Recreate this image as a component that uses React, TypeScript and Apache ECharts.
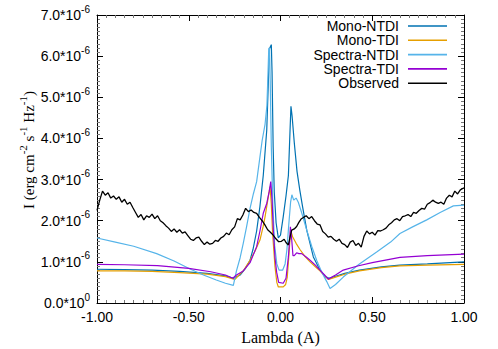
import React, { useEffect, useRef } from 'react';
import * as echarts from 'echarts';

// y values are in units of 1e-6 erg cm^-2 s^-1 Hz^-1
const UNIT = 1e-6;
const seriesNames = ['Mono-NTDI', 'Mono-TDI', 'Spectra-NTDI', 'Spectra-TDI', 'Observed'];
const seriesColors = ['#0072b2', '#e69f00', '#56b4e9', '#9400d3', '#000000'];

const monoNTDI: [number, number][] = [
  [-1.0, 0.82], [-0.85, 0.81], [-0.7, 0.8], [-0.55, 0.77], [-0.4, 0.72], [-0.3, 0.66], [-0.255, 0.6],
  [-0.22, 0.68], [-0.19, 0.85], [-0.166, 1.04], [-0.15, 1.3], [-0.13, 1.75], [-0.112, 2.35], [-0.094, 3.1],
  [-0.075, 4.2], [-0.066, 5.4], [-0.06, 6.18], [-0.054, 6.24], [-0.05, 6.28], [-0.046, 5.6], [-0.04, 3.8],
  [-0.034, 2.7], [-0.024, 1.95], [-0.012, 1.58], [0.0, 1.65], [0.015, 2.1], [0.03, 2.6], [0.043, 3.1],
  [0.052, 4.2], [0.057, 4.78], [0.063, 4.55], [0.075, 3.9], [0.09, 3.2], [0.105, 2.75], [0.12, 2.35],
  [0.143, 1.77], [0.179, 1.12], [0.215, 0.8], [0.245, 0.64], [0.265, 0.6], [0.3, 0.65], [0.35, 0.72],
  [0.43, 0.8], [0.55, 0.88], [0.65, 0.92], [0.8, 0.95], [1.0, 1.0],
];

const monoTDI: [number, number][] = [
  [-1.0, 0.78], [-0.85, 0.78], [-0.7, 0.77], [-0.55, 0.74], [-0.4, 0.7], [-0.3, 0.64], [-0.25, 0.57],
  [-0.239, 0.62], [-0.2, 0.8], [-0.166, 1.04], [-0.14, 1.25], [-0.112, 1.53], [-0.095, 1.85], [-0.084, 2.1],
  [-0.066, 2.59], [-0.057, 2.83], [-0.05, 2.4], [-0.043, 1.69], [-0.03, 0.88], [-0.02, 0.5], [-0.012, 0.39],
  [0.015, 0.39], [0.028, 0.45], [0.037, 0.63], [0.048, 1.3], [0.055, 1.77], [0.066, 1.61], [0.085, 1.45],
  [0.106, 1.3], [0.135, 1.12], [0.161, 1.0], [0.19, 0.88], [0.215, 0.78], [0.24, 0.66], [0.262, 0.57],
  [0.3, 0.63], [0.35, 0.7], [0.43, 0.78], [0.55, 0.86], [0.65, 0.9], [0.8, 0.92], [1.0, 0.94],
];

const spectraNTDI: [number, number][] = [
  [-1.0, 1.58], [-0.9, 1.48], [-0.8, 1.38], [-0.675, 1.2], [-0.58, 1.02], [-0.49, 0.82], [-0.42, 0.68],
  [-0.35, 0.56], [-0.3, 0.48], [-0.257, 0.43], [-0.24, 0.78], [-0.22, 1.1], [-0.203, 1.45], [-0.185, 1.85],
  [-0.166, 2.3], [-0.148, 2.65], [-0.13, 2.95], [-0.112, 3.55], [-0.1, 3.95], [-0.084, 4.35], [-0.074, 4.8],
  [-0.068, 5.6], [-0.064, 6.18], [-0.06, 6.2], [-0.056, 5.4], [-0.05, 3.8], [-0.042, 2.4], [-0.032, 1.4],
  [-0.02, 0.95], [-0.008, 0.8], [0.012, 0.8], [0.025, 0.95], [0.035, 1.3], [0.045, 1.9], [0.055, 2.45],
  [0.062, 2.63], [0.072, 2.5], [0.085, 2.55], [0.097, 2.45], [0.115, 2.2], [0.143, 1.77], [0.17, 1.38],
  [0.197, 1.04], [0.225, 0.75], [0.252, 0.52], [0.27, 0.35], [0.3, 0.45], [0.342, 0.63], [0.43, 0.95],
  [0.524, 1.24], [0.6, 1.48], [0.651, 1.69], [0.72, 1.85], [0.797, 2.02], [0.87, 2.2], [0.942, 2.36],
  [1.0, 2.38],
];

const spectraTDI: [number, number][] = [
  [-1.0, 0.94], [-0.85, 0.93], [-0.67, 0.91], [-0.5, 0.84], [-0.38, 0.76], [-0.3, 0.68], [-0.26, 0.6],
  [-0.24, 0.68], [-0.203, 0.78], [-0.166, 0.98], [-0.13, 1.37], [-0.112, 1.75], [-0.094, 2.18],
  [-0.075, 2.42], [-0.062, 2.7], [-0.053, 2.95], [-0.046, 2.5], [-0.039, 1.77], [-0.03, 1.1],
  [-0.021, 0.75], [-0.01, 0.5], [0.015, 0.48], [0.03, 0.6], [0.043, 1.12], [0.05, 1.55], [0.054, 1.85],
  [0.06, 1.6], [0.068, 1.15], [0.075, 1.15], [0.088, 1.22], [0.1, 1.2], [0.115, 1.2], [0.14, 1.12],
  [0.161, 1.04], [0.19, 0.92], [0.215, 0.8], [0.24, 0.68], [0.26, 0.58], [0.3, 0.68], [0.342, 0.8],
  [0.42, 0.9], [0.5, 0.98], [0.651, 1.11], [0.8, 1.15], [1.0, 1.19],
];

const observed: [number, number][] = [
  [-1.0, 2.25], [-0.985, 2.5], [-0.97, 2.72], [-0.955, 2.62], [-0.94, 2.68], [-0.925, 2.55], [-0.91, 2.6],
  [-0.895, 2.52], [-0.88, 2.58], [-0.865, 2.45], [-0.85, 2.52], [-0.835, 2.4], [-0.82, 2.45], [-0.805, 2.32],
  [-0.79, 2.2], [-0.775, 2.08], [-0.76, 2.15], [-0.745, 2.02], [-0.73, 2.12], [-0.715, 2.08], [-0.7, 2.16],
  [-0.685, 2.05], [-0.67, 2.12], [-0.655, 2.0], [-0.64, 1.95], [-0.625, 1.88], [-0.61, 1.82], [-0.595, 1.74],
  [-0.58, 1.8], [-0.565, 1.72], [-0.55, 1.78], [-0.535, 1.7], [-0.52, 1.73], [-0.505, 1.64], [-0.49, 1.55],
  [-0.475, 1.52], [-0.46, 1.58], [-0.445, 1.6], [-0.43, 1.5], [-0.415, 1.42], [-0.4, 1.48], [-0.385, 1.43],
  [-0.37, 1.45], [-0.355, 1.52], [-0.34, 1.5], [-0.325, 1.58], [-0.31, 1.62], [-0.295, 1.7], [-0.28, 1.66],
  [-0.265, 1.78], [-0.25, 1.85], [-0.235, 2.05], [-0.22, 2.02], [-0.205, 2.14], [-0.19, 2.3], [-0.175, 2.22],
  [-0.16, 2.26], [-0.145, 2.2], [-0.13, 2.18], [-0.115, 2.08], [-0.1, 2.0], [-0.085, 1.9], [-0.07, 1.78],
  [-0.055, 1.72], [-0.04, 1.65], [-0.025, 1.56], [-0.01, 1.49], [0.005, 1.5], [0.02, 1.55], [0.03, 1.47],
  [0.043, 1.41], [0.052, 1.6], [0.061, 1.77], [0.075, 1.8], [0.088, 1.86], [0.1, 1.96], [0.112, 2.04],
  [0.125, 2.08], [0.14, 2.12], [0.155, 2.05], [0.17, 2.1], [0.185, 2.0], [0.2, 1.92], [0.215, 1.9],
  [0.23, 1.74], [0.245, 1.68], [0.26, 1.6], [0.275, 1.62], [0.29, 1.55], [0.305, 1.5], [0.32, 1.55],
  [0.335, 1.45], [0.35, 1.42], [0.365, 1.35], [0.38, 1.48], [0.395, 1.52], [0.41, 1.4], [0.425, 1.45],
  [0.44, 1.36], [0.455, 1.62], [0.47, 1.75], [0.485, 1.68], [0.5, 1.72], [0.515, 1.65], [0.53, 1.76],
  [0.545, 1.75], [0.56, 1.78], [0.575, 1.82], [0.59, 1.9], [0.605, 1.95], [0.62, 2.02], [0.635, 2.05],
  [0.65, 2.0], [0.665, 2.1], [0.68, 2.12], [0.695, 2.15], [0.71, 2.1], [0.725, 2.2], [0.74, 2.18],
  [0.755, 2.25], [0.77, 2.3], [0.785, 2.28], [0.8, 2.4], [0.815, 2.44], [0.83, 2.5], [0.845, 2.45],
  [0.86, 2.42], [0.875, 2.45], [0.89, 2.4], [0.905, 2.55], [0.92, 2.62], [0.935, 2.58], [0.95, 2.72],
  [0.965, 2.65], [0.98, 2.75], [1.0, 2.8],
];

const allSeries = [monoNTDI, monoTDI, spectraNTDI, spectraTDI, observed];

const SANS = 'Liberation Sans, Arial, sans-serif';
const SERIF = 'Liberation Serif, Times New Roman, serif';

const supRich = {
  m: { fontSize: 14, fontFamily: SANS, color: '#000' },
  s: { fontSize: 10, fontFamily: SANS, color: '#000', padding: [0, 0, 12, 0] },
};

export default function App() {
  const ref = useRef<HTMLDivElement>(null);
  useEffect(() => {
    if (!ref.current) return;
    const chart = echarts.init(ref.current, undefined, { renderer: 'svg' });
    const axisCommon = {
      axisLine: { show: true, onZero: false, lineStyle: { color: '#000', width: 1 } },
      axisTick: { show: true, inside: true, length: 6, lineStyle: { color: '#000', width: 1 } },
      minorTick: { show: true, splitNumber: 10, length: 3, lineStyle: { color: '#777', width: 1 } },
      splitLine: { show: false },
    };
    chart.setOption({
      animation: false,
      backgroundColor: '#fff',
      grid: { left: 97, right: 34, top: 15, bottom: 46, containLabel: false, outerBoundsMode: 'none' },
      legend: {
        orient: 'vertical',
        align: 'right',
        right: 51,
        top: 19,
        padding: 0,
        icon: 'rect',
        itemWidth: 39,
        itemHeight: 1.6,
        itemGap: 0.3,
        data: seriesNames,
        textStyle: { fontSize: 14, fontFamily: SANS, color: '#000', lineHeight: 14, padding: [0, 4, 0, 0] },
      },
      graphic: [
        {
          type: 'text',
          x: 29,
          y: 150,
          rotation: Math.PI / 2,
          style: {
            text: '{m|I (erg cm}{s|-2}{m| s}{s|-1}{m| Hz}{s|-1}{m|)}',
            align: 'center',
            verticalAlign: 'middle',
            rich: {
              m: { fontSize: 15, fontFamily: SERIF, fill: '#000' },
              s: { fontSize: 11, fontFamily: SERIF, fill: '#000', padding: [0, 0, 12, 0] },
            },
          },
        },
      ],
      xAxis: [
        {
          type: 'value', min: -1, max: 1, interval: 0.5, position: 'bottom',
          ...axisCommon,
          axisLabel: { formatter: (v: number) => v.toFixed(2), color: '#000', fontSize: 14, fontFamily: SANS, margin: 7 },
          name: 'Lambda (A)', nameLocation: 'middle', nameGap: 26,
          nameTextStyle: { fontFamily: SERIF, fontSize: 16, color: '#000' },
        },
        {
          type: 'value', min: -1, max: 1, interval: 0.5, position: 'top',
          ...axisCommon,
          axisLabel: { show: false },
        },
      ],
      yAxis: [
        {
          type: 'value', min: 0, max: 7 * UNIT, interval: UNIT, position: 'left',
          ...axisCommon,
          axisLabel: {
            margin: 7,
            formatter: (v: number) => {
              const n = Math.round(v / UNIT);
              return n === 0 ? '{m|0.0*10}{s|0}' : `{m|${n}.0*10}{s|-6}`;
            },
            rich: supRich,
          },
        },
        {
          type: 'value', min: 0, max: 7 * UNIT, interval: UNIT, position: 'right',
          ...axisCommon,
          axisLabel: { show: false },
        },
      ],
      series: allSeries.map((d, i) => ({
        name: seriesNames[i],
        type: 'line',
        xAxisIndex: 0,
        yAxisIndex: 0,
        symbol: 'none',
        showSymbol: false,
        color: seriesColors[i],
        itemStyle: { color: seriesColors[i] },
        lineStyle: { color: seriesColors[i], width: i === 4 ? 1.3 : 1.2 },
        data: d.map(([x, y]) => [x, y * UNIT]),
        z: 2 + i,
      })),
    });
    return () => chart.dispose();
  }, []);
  return <div ref={ref} style={{ width: 498, height: 349, position: 'absolute', left: 0, top: 0 }} />;
}
